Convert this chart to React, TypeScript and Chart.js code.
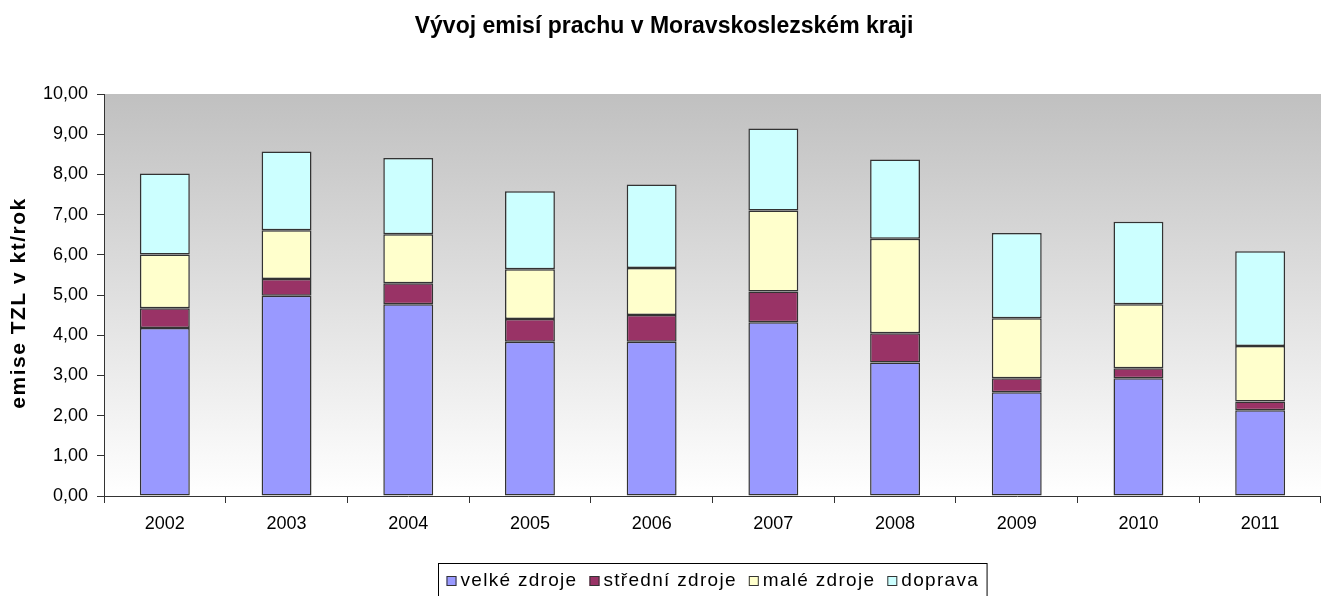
import React, { useEffect, useRef } from "react";
import { Chart, registerables } from "chart.js";

Chart.register(...registerables);

const TITLE = "Vývoj emisí prachu v Moravskoslezském kraji";
const Y_TITLE = "emise TZL v kt/rok";
const categories = ["2002", "2003", "2004", "2005", "2006", "2007", "2008", "2009", "2010", "2011"];
const seriesNames = ["velké zdroje", "střední zdroje", "malé zdroje", "doprava"];
const velke = [4.18, 4.98, 4.77, 3.84, 3.84, 4.32, 3.32, 2.58, 2.93, 2.13];
const stredni = [0.49, 0.42, 0.52, 0.56, 0.66, 0.77, 0.73, 0.35, 0.25, 0.22];
const male = [1.34, 1.21, 1.22, 1.24, 1.17, 2.01, 2.35, 1.49, 1.59, 1.38];
const doprava = [2.01, 1.96, 1.9, 1.94, 2.08, 2.04, 1.97, 2.12, 2.05, 2.36];
const colors = ["#9999FF", "#993366", "#FFFFCC", "#CCFFFF"];
const yMin = 0;
const yMax = 10;
const yStep = 1;

const FONT = "'Liberation Sans', Arial, sans-serif";

const decorPlugin = {
  id: "decor",
  beforeDraw(chart: any) {
    const { ctx, chartArea } = chart;
    const g = ctx.createLinearGradient(0, chartArea.top, 0, chartArea.bottom);
    g.addColorStop(0, "#c0c0c0");
    g.addColorStop(1, "#ffffff");
    ctx.save();
    ctx.fillStyle = g;
    ctx.fillRect(chartArea.left, chartArea.top, chartArea.right - chartArea.left, chartArea.bottom - chartArea.top);
    ctx.restore();
  },
  afterDraw(chart: any) {
    const { ctx, chartArea } = chart;
    ctx.save();
    // title
    ctx.fillStyle = "#000";
    ctx.font = `bold 23px ${FONT}`;
    ctx.textAlign = "center";
    ctx.textBaseline = "middle";
    ctx.fillText(TITLE, 664, 27);
    // y title
    ctx.save();
    ctx.translate(19, 303);
    ctx.rotate(-Math.PI / 2);
    ctx.font = `bold 21px ${FONT}`;
    (ctx as any).letterSpacing = "1.5px";
    ctx.fillText(Y_TITLE, 0, 0);
    ctx.restore();
    // legend
    ctx.font = `19px ${FONT}`;
    (ctx as any).letterSpacing = "1.3px";
    ctx.textAlign = "left";
    const box = 10;
    const gapBoxText = 4;
    const gapItems = 12;
    const widths = chart.data.datasets.map((d: any) => ctx.measureText(d.label).width);
    const total = widths.reduce((a: number, b: number) => a + b, 0) + chart.data.datasets.length * (box + gapBoxText) + (chart.data.datasets.length - 1) * gapItems;
    const padX = 8;
    const cx = (chartArea.left + chartArea.right) / 2;
    const left = Math.round(cx - total / 2 - padX) + 0.5;
    const top = 563.5;
    ctx.strokeStyle = "#000";
    ctx.lineWidth = 1;
    ctx.strokeRect(left, top, total + padX * 2, 40);
    let x = left + padX;
    const cy = 581;
    chart.data.datasets.forEach((d: any, i: number) => {
      ctx.fillStyle = d.backgroundColor;
      ctx.fillRect(x, cy - box / 2, box, box);
      ctx.strokeStyle = "#333";
      ctx.strokeRect(x + 0.5, cy - box / 2 + 0.5, box - 1, box - 1);
      x += box + gapBoxText;
      ctx.fillStyle = "#000";
      ctx.fillText(d.label, x, cy);
      x += widths[i] + gapItems;
    });
    ctx.restore();
  },
};

export default function App() {
  const ref = useRef<HTMLCanvasElement | null>(null);
  useEffect(() => {
    if (!ref.current) return;
    const values = [velke, stredni, male, doprava];
    const chart = new Chart(ref.current, {
      type: "bar",
      data: {
        labels: categories,
        datasets: values.map((v, i) => ({
          label: seriesNames[i],
          data: v,
          backgroundColor: colors[i],
          borderColor: "#333333",
          borderWidth: 1.5,
          borderSkipped: false,
          barPercentage: 0.41,
          categoryPercentage: 1,
        })),
      },
      options: {
        responsive: false,
        animation: false,
        layout: { padding: { top: 94, left: 0, right: 0, bottom: 40 } },
        plugins: {
          legend: { display: false },
          title: { display: false },
          tooltip: { enabled: false },
        },
        scales: {
          x: {
            stacked: true,
            afterFit: (s: any) => {
              s.height = 60;
            },
            grid: {
              display: true,
              drawOnChartArea: false,
              drawTicks: true,
              tickLength: 7,
              offset: true,
              color: "#333",
            },
            border: { display: true, color: "#333", width: 1 },
            ticks: {
              color: "#000",
              padding: 10,
              font: { family: FONT, size: 18 },
            },
          },
          y: {
            stacked: true,
            min: yMin,
            max: yMax,
            afterFit: (s: any) => {
              s.width = 104;
            },
            grid: {
              display: true,
              drawOnChartArea: false,
              drawTicks: true,
              tickLength: 7,
              color: "#333",
            },
            border: { display: true, color: "#333", width: 1 },
            ticks: {
              stepSize: yStep,
              color: "#000",
              padding: 9,
              font: { family: FONT, size: 18 },
              callback: (v: any) => Number(v).toFixed(2).replace(".", ","),
            },
          },
        },
      },
      plugins: [decorPlugin],
    });
    return () => chart.destroy();
  }, []);
  return (
    <div style={{ position: "absolute", left: 0, top: 0, width: 1321, height: 596, background: "#fff" }}>
      <canvas ref={ref} width={1321} height={596} style={{ display: "block" }} />
    </div>
  );
}
